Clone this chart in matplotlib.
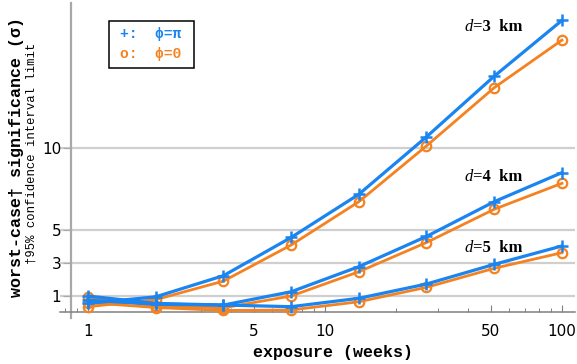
import matplotlib
matplotlib.use("Agg")
import matplotlib.pyplot as plt
from matplotlib.patches import Rectangle
from matplotlib.ticker import FixedLocator, NullFormatter, FixedFormatter

# exposure in weeks (log-spaced from 1 to 100)
weeks = [1, 1.93, 3.73, 7.2, 13.9, 26.8, 51.8, 100]

# worst-case significance (sigma), phi = pi
sig_pi_d3 = [0.55, 0.95, 2.24, 4.57, 7.2, 10.7, 14.4, 17.8]
sig_pi_d4 = [1.0, 0.55, 0.45, 1.26, 2.79, 4.63, 6.75, 8.52]
sig_pi_d5 = [0.75, 0.5, 0.45, 0.35, 0.86, 1.73, 2.93, 4.05]

# worst-case significance (sigma), phi = 0
sig_0_d3 = [0.35, 0.78, 1.91, 4.11, 6.75, 10.15, 13.7, 16.6]
sig_0_d4 = [0.95, 0.4, 0.28, 1.0, 2.48, 4.26, 6.29, 7.87]
sig_0_d5 = [0.6, 0.3, 0.12, 0.15, 0.65, 1.53, 2.69, 3.64]

distances = ["3", "4", "5"]
label_y = [17.4, 8.25, 3.95]

y_ticks = [1, 3, 5, 10]
x_major = [1, 5, 10, 50, 100]
x_minor = [0.8, 0.9, 2, 3, 4, 6, 7, 8, 9, 20, 30, 40, 60, 70, 80, 90]

BLUE = "#1a84f0"
ORANGE = "#f58220"
MONO = ["Liberation Mono", "DejaVu Sans Mono"]
SERIF = ["Liberation Serif", "DejaVu Serif"]

W, H = 577, 364
fig = plt.figure(figsize=(W / 100, H / 100), dpi=100)
ax = fig.add_axes([60 / W, 1 - 318 / H, (575 - 60) / W, (318 - 3) / H])
ax.set_xscale("log")
ax.set_xlim(0.762, 113.5)
ax.set_ylim(-0.34, 18.86)

# horizontal reference lines
for yv in y_ticks:
    ax.axhline(yv, color="#cfcfcf", lw=1.6, zorder=1)

# phi = 0 curves underneath
for ys in (sig_0_d3, sig_0_d4, sig_0_d5):
    ax.plot(weeks, ys, color=ORANGE, lw=2.0, marker="o", ms=6.8,
            mfc="none", mec=ORANGE, mew=1.6, zorder=3, clip_on=False)
# phi = pi curves on top
for ys in (sig_pi_d3, sig_pi_d4, sig_pi_d5):
    ax.plot(weeks, ys, color=BLUE, lw=2.3, marker="+", ms=8.5,
            mew=1.8, zorder=4, clip_on=False)

# axes styling
for s in ("top", "right"):
    ax.spines[s].set_visible(False)
ax.spines["left"].set_position(("data", 0.848))
ax.spines["bottom"].set_position(("data", 0))
ax.spines["left"].set_color("#a8a8a8")
ax.spines["left"].set_linewidth(1.6)
ax.spines["bottom"].set_color("#808080")
ax.spines["bottom"].set_linewidth(1.1)

ax.xaxis.set_major_locator(FixedLocator(x_major))
ax.xaxis.set_major_formatter(FixedFormatter([str(v) for v in x_major]))
ax.xaxis.set_minor_locator(FixedLocator(x_minor))
ax.xaxis.set_minor_formatter(NullFormatter())
ax.tick_params(axis="x", which="major", direction="in", length=5, width=0.8,
               color="#808080", pad=8, labelsize=11)
ax.tick_params(axis="x", which="minor", direction="in", length=3, width=0.7,
               color="#808080")

ax.yaxis.set_major_locator(FixedLocator(y_ticks))
ax.yaxis.set_major_formatter(FixedFormatter([str(v) for v in y_ticks]))
ax.yaxis.set_minor_locator(FixedLocator([]))
ax.tick_params(axis="y", which="major", direction="out", length=6, width=0.8,
               color="#a8a8a8", pad=1, labelsize=11)

# curve labels
for d, yv in zip(distances, label_y):
    ax.text(42.0, yv, "d", fontsize=12, ha="right", va="center",
            family=SERIF, fontstyle="italic", zorder=5)
    ax.text(42.0, yv, f"={d}  km", fontsize=12, ha="left", va="center",
            family=SERIF, fontweight="bold", zorder=5)

# axis titles
fig.text(333 / W, 1 - 352 / H, "exposure (weeks)", ha="center", va="center",
         family=MONO, fontweight="bold", fontsize=12)
fig.text(17 / W, 1 - 157 / H, "worst-case\u2020 significance (\u03c3)", ha="center",
         va="center", rotation=90, family=MONO, fontweight="bold", fontsize=12)
fig.text(32 / W, 1 - 153 / H, "\u202095% confidence interval limit", ha="center",
         va="center", rotation=90, family=MONO, fontsize=8.8)

# legend box
fig.patches.append(Rectangle((109 / W, 1 - 68 / H), 85 / W, 47 / H,
                             transform=fig.transFigure, fill=True, fc="white",
                             ec="black", lw=1.1, zorder=6))
fig.text(120 / W, 1 - 34 / H, "+:  \u03d5=\u03c0", color=BLUE, family=MONO,
         fontweight="bold", fontsize=10.5, va="center", ha="left", zorder=7)
fig.text(120 / W, 1 - 54 / H, "o:  \u03d5=0", color=ORANGE, family=MONO,
         fontweight="bold", fontsize=10.5, va="center", ha="left", zorder=7)

fig.savefig("out.png", dpi=100)
